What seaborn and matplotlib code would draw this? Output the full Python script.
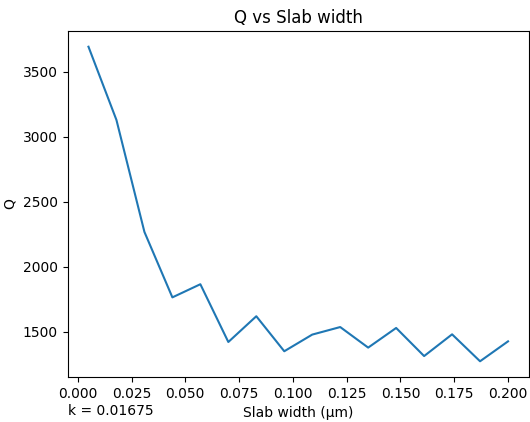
import matplotlib
matplotlib.use("Agg")
import matplotlib.pyplot as plt
import pandas as pd
import seaborn as sns

# Slab widths (µm) and the corresponding quality factor Q
slab_width = [0.005, 0.018, 0.031, 0.044, 0.057, 0.070, 0.083, 0.096,
              0.109, 0.122, 0.135, 0.148, 0.161, 0.174, 0.187, 0.200]
q_values = [3692, 3129, 2269, 1766, 1867, 1423, 1621, 1352,
            1480, 1538, 1380, 1531, 1315, 1482, 1275, 1428]
x_ticks = [0.0, 0.025, 0.05, 0.075, 0.1, 0.125, 0.15, 0.175, 0.2]
k_value = 0.01675

df = pd.DataFrame({"width": slab_width, "Q": q_values})

fig, ax = plt.subplots(figsize=(5.3, 4.22), dpi=100)
fig.subplots_adjust(left=67.5 / 530, right=529 / 530,
                    top=1 - 31 / 422, bottom=1 - 377 / 422)

sns.lineplot(data=df, x="width", y="Q", ax=ax, color="#1f77b4", linewidth=1.5)

ax.set_title("Q vs Slab width", fontsize=12)
ax.set_xlabel("Slab width (µm)", fontsize=10)
ax.set_ylabel("Q", fontsize=10)
ax.set_xticks(x_ticks)
ax.set_xticklabels([f"{t:.3f}" for t in x_ticks])

# coupling constant noted under the left end of the x axis
ax.text(0.0, -0.110, f"k = {k_value}", transform=ax.transAxes,
        ha="left", va="baseline", fontsize=10)

fig.savefig("out.png", dpi=100)
